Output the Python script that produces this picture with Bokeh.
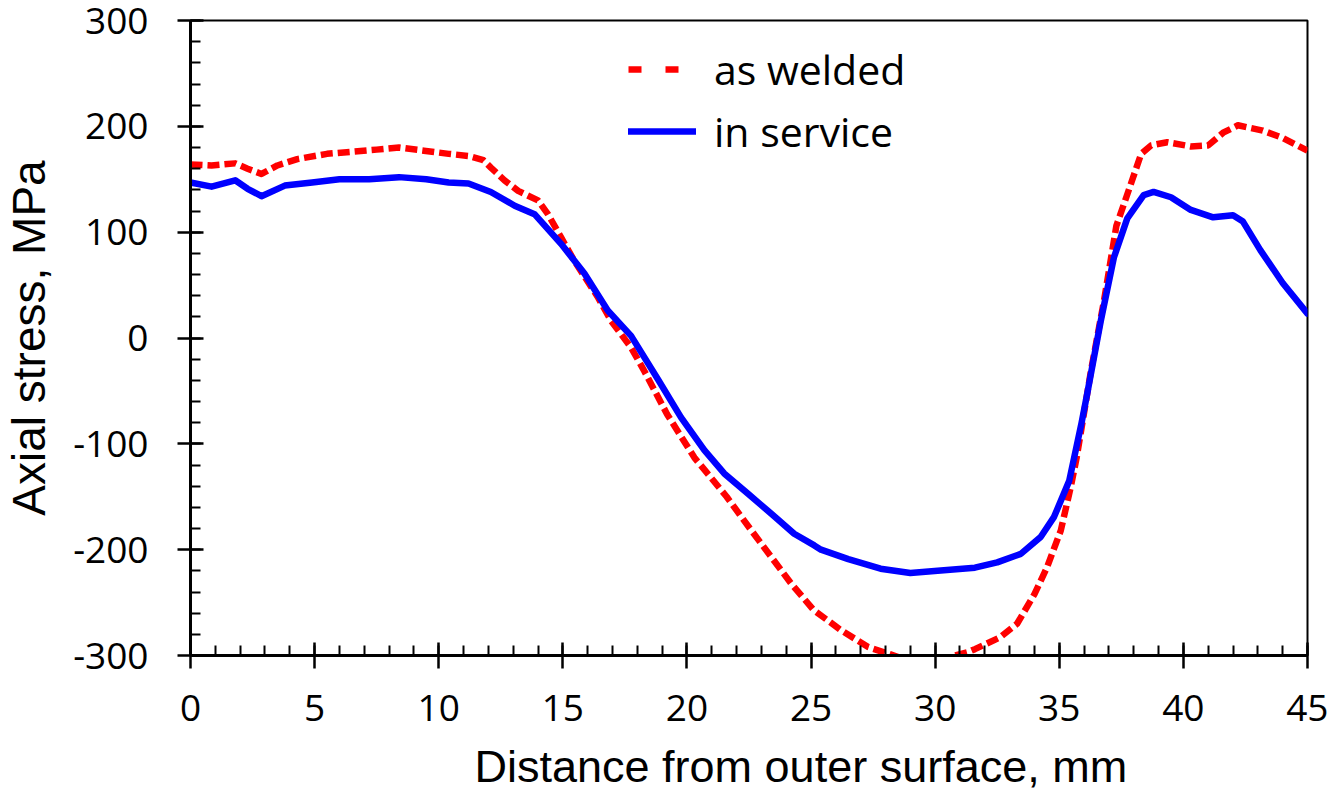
from bokeh.plotting import figure
from bokeh.models import Range1d, FixedTicker, Legend, LegendItem, Title
from bokeh.embed import file_html
from bokeh.resources import INLINE

# ---- data ----
x_welded = [0, 0.85, 1.8, 2.3, 2.86, 3.5, 4.3, 5.5, 6.5, 7.5, 8.4, 9.4, 10.4, 11.2, 11.8,
            12.1, 12.65, 13.2, 14.0, 14.4, 14.93, 15.46, 16.4, 16.95, 17.75, 18.3, 19.2,
            20.3, 21.6, 22.6, 23.4, 24.2, 25.1, 26.2, 27.3, 28.2, 28.8, 29.5, 30.2, 30.8,
            31.3, 31.6, 32.6, 33.3, 34.0, 34.5, 35.06, 35.46, 35.7, 36.27, 36.8, 37.3,
            37.7, 38.3, 38.7, 39.35, 40.3, 41.0, 41.6, 42.2, 43.2, 44.0, 45.0]
y_welded = [164, 163, 165, 160, 155, 163, 169, 174, 176, 178, 180, 177, 174, 172, 168,
            161, 149, 139, 130, 117, 95, 73, 39, 16, -9, -32, -72,
            -113, -150, -182, -207, -232, -257, -276, -292, -299, -304, -307, -305, -300,
            -297, -294, -283, -270, -242, -217, -182, -141, -113, -32, 35, 106,
            133, 174, 182, 185, 181, 182, 194, 201, 196, 189, 177]

x_service = [0, 0.85, 1.8, 2.3, 2.86, 3.8, 4.9, 6.0, 7.2, 8.4, 9.5, 10.4, 11.2, 12.1,
             13.06, 13.86, 14.93, 15.87, 16.81, 17.75, 18.83, 19.76, 20.7, 21.5, 22.45,
             23.4, 24.32, 25.13, 25.4, 26.5, 27.8, 29.0, 30.1, 31.6, 32.5, 33.45, 34.25,
             34.79, 35.4, 35.9, 36.13, 36.67, 37.2, 37.74, 38.4, 38.8, 39.5, 40.3, 41.2,
             42.0, 42.4, 43.1, 44.0, 45.0]
y_service = [147, 143, 149, 141, 134, 144, 147, 150, 150, 152, 150, 147, 146, 138,
             125, 117, 89, 61, 26, 2, -39, -75, -106, -128, -147,
             -166, -185, -196, -200, -209, -218, -222, -220, -217, -212, -204, -188,
             -169, -135, -80, -52, 16, 76, 113, 135, 138, 133, 121, 114,
             116, 110, 83, 52, 23]

x_ticks = [0, 5, 10, 15, 20, 25, 30, 35, 40, 45]
x_tick_labels = ["0", "5", "10", "15", "20", "25", "30", "35", "40", "45"]
y_ticks = [-300, -200, -100, 0, 100, 200, 300]
y_tick_labels = ["-300", "-200", "-100", "0", "100", "200", "300"]
x_minor = [v for v in range(0, 46)]
y_minor = [v for v in range(-300, 301, 20)]

series_names = ["as welded", "in service"]
x_title = "Distance from outer surface, mm"
y_title = "Axial stress, MPa"

# ---- figure ----
p = figure(width=1328, height=808, x_range=Range1d(0, 45), y_range=Range1d(-300, 300),
           output_backend="svg", toolbar_location=None,
           min_border_left=189, min_border_right=21, min_border_top=20, min_border_bottom=153)
p.background_fill_color = "white"
p.border_fill_color = "white"
p.xgrid.visible = False
p.ygrid.visible = False
p.outline_line_color = "black"
p.outline_line_width = 2

red = p.line(x_welded, y_welded, line_color="#ff0000", line_width=6.5, line_dash="12 5",
             line_join="round")
blue = p.line(x_service, y_service, line_color="#0000ff", line_width=6.5, line_join="round",
              line_cap="round")

# legend proxies (a single NaN point: nothing drawn in the plot)
nan = float("nan")
leg_red = p.line([nan], [nan], line_color="#ff0000", line_width=6.5, line_dash="13 24")
leg_blue = p.line([nan], [nan], line_color="#0000ff", line_width=6.5, line_cap="round")

legend = Legend(items=[LegendItem(label=series_names[0], renderers=[leg_red]),
                       LegendItem(label=series_names[1], renderers=[leg_blue])],
                location=(438, 496))
legend.border_line_color = None
legend.background_fill_alpha = 0
legend.padding = 0
legend.margin = 0
legend.spacing = 6
legend.glyph_width = 68
legend.glyph_height = 50
legend.label_height = 50
legend.label_standoff = 18
legend.label_text_font = "Open Sans"
legend.label_text_font_size = "41px"
legend.label_text_color = "black"
p.add_layout(legend, "center")

for ax, ticks, labels, minor in ((p.xaxis[0], x_ticks, x_tick_labels, x_minor),
                                 (p.yaxis[0], y_ticks, y_tick_labels, y_minor)):
    ax.ticker = FixedTicker(ticks=ticks, minor_ticks=minor)
    ax.major_label_overrides = {t: l for t, l in zip(ticks, labels)}
    ax.axis_line_width = 3
    ax.axis_line_color = "black"
    ax.major_tick_in = 13
    ax.major_tick_out = 13
    ax.major_tick_line_width = 2.5
    ax.minor_tick_in = 10
    ax.minor_tick_out = 0
    ax.minor_tick_line_width = 2
    ax.major_label_text_font = "Open Sans"
    ax.major_label_text_font_size = "37px"
    ax.major_label_text_color = "black"
    ax.axis_label_text_font = "Liberation Sans"
    ax.axis_label_text_font_style = "normal"
    ax.axis_label_text_color = "black"

p.xaxis.major_label_standoff = 26
p.yaxis.major_label_standoff = 29
p.yaxis.axis_label = y_title
p.yaxis.axis_label_text_font_size = "46px"
p.yaxis.axis_label_standoff = 15

# x title: a Title below the axis, starting right of the frame edge as in the reference
xt = Title(text=x_title, align="left", offset=284, standoff=31, vertical_align="bottom",
           text_font="Liberation Sans", text_font_size="45px",
           text_font_style="normal", text_color="black")
p.add_layout(xt, "below")

open("out.html", "w").write(file_html(p, INLINE))
